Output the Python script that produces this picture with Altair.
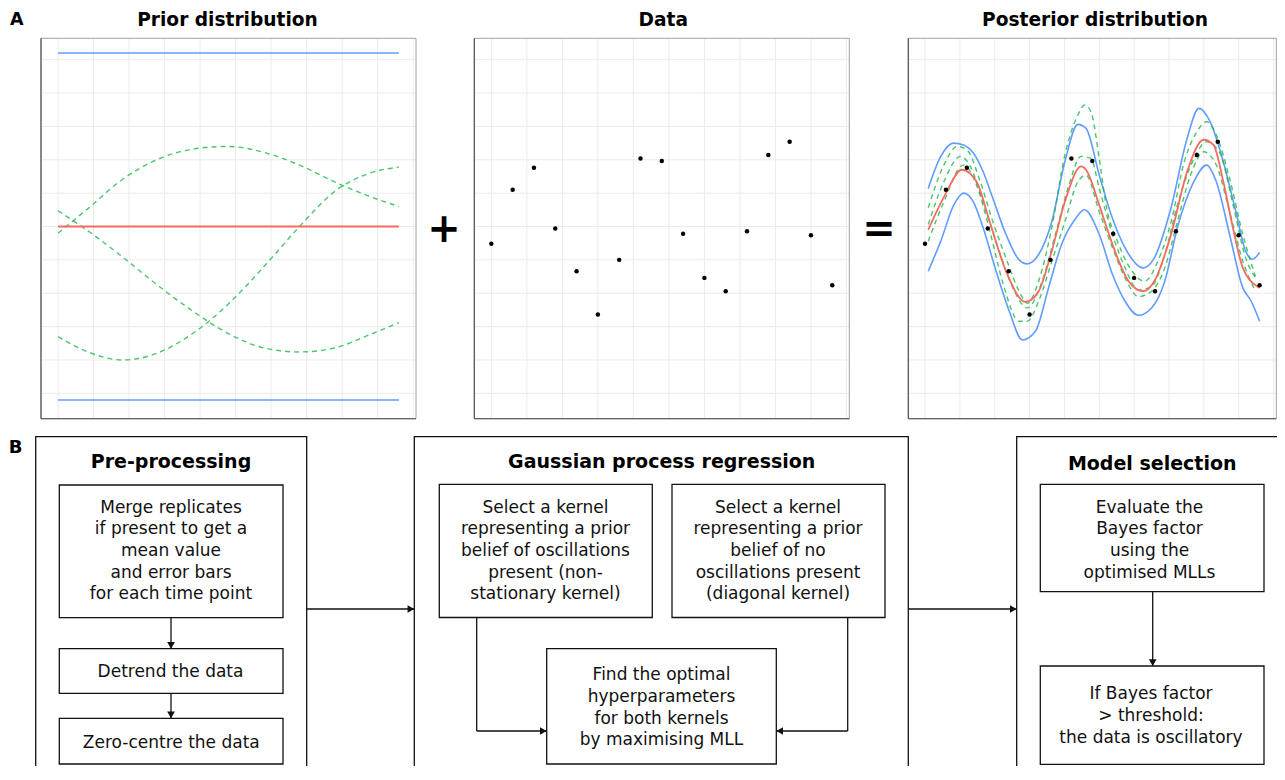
import altair as alt
import pandas as pd

# ---------------- values ----------------
# observation times and values (Data panel, repeated on the posterior panel)
obs_t = [0, 3, 6, 9, 12, 15, 18, 21, 24, 27, 30, 33, 36, 39, 42, 45, 48]
obs_v = [-0.26, 0.55, 0.88, -0.03, -0.67, -1.32, -0.50, 1.02, 0.98, -0.11,
         -0.77, -0.97, -0.07, 1.07, 1.27, -0.13, -0.88]

# prior: mean, +/- band and three dashed samples
prior_edge_t = [0, 48]
prior_mean = [0.0, 0.0]
prior_upper = [2.6, 2.6]
prior_lower = [-2.6, -2.6]
prior_t = [0, 4, 9, 13.9, 19, 23.9, 29, 34, 38.9, 43.9, 48]
prior_s1 = [0.235, -0.05, -0.45, -0.87, -1.27, -1.60, -1.82, -1.88, -1.82, -1.62, -1.44]
prior_s2 = [-0.10, 0.25, 0.70, 1.00, 1.16, 1.20, 1.11, 0.92, 0.67, 0.45, 0.30]
prior_s3 = [-1.65, -1.87, -2.00, -1.90, -1.60, -1.17, -0.60, 0.00, 0.52, 0.80, 0.89]

# posterior mean
post_mean_t = [0.46, 2.85, 5.29, 7.4, 9.28, 11.62, 14.43, 16.3, 18.18, 20.06, 22.4, 23.1,
               25.0, 26.4, 27.8, 29.2, 31.3, 32.9, 35.3, 37.6, 40.0, 41.4, 42.8, 44.2,
               45.6, 48.0]
post_mean_v = [-0.05, 0.47, 0.85, 0.67, 0.07, -0.67, -1.13, -0.97, -0.37, 0.37, 0.90, 0.85,
               0.32, -0.12, -0.52, -0.82, -0.97, -0.82, -0.12, 0.82, 1.30, 1.22, 0.67, -0.03,
               -0.62, -0.92]
# posterior upper / lower bounds
post_up_t = [0.46, 2.25, 4.12, 5.53, 6.93, 8.34, 9.74, 11.62, 13.5, 14.67, 16.3, 18.18, 20.06,
             21.93, 23.1, 25.0, 26.9, 28.7, 31.3, 32.9, 35.3, 37.6, 39.3, 40.9, 42.8, 44.6,
             46.0, 47.0, 48.0]
post_up_v = [0.57, 1.05, 1.25, 1.22, 1.10, 0.82, 0.42, -0.12, -0.50, -0.56, -0.42, 0.07, 0.97,
             1.53, 1.47, 0.77, 0.12, -0.32, -0.62, -0.47, 0.28, 1.32, 1.77, 1.57, 0.97, 0.22,
             -0.37, -0.49, -0.39]
post_lo_t = [0.46, 2.25, 4.12, 5.53, 6.93, 8.34, 10.2, 12.09, 13.97, 15.84, 17.72, 19.59, 21.47,
             22.88, 25.0, 26.9, 28.7, 30.6, 32.5, 34.4, 36.2, 38.6, 40.4, 41.8, 43.7, 45.6,
             46.8, 48.0]
post_lo_v = [-0.67, -0.22, 0.32, 0.50, 0.37, -0.02, -0.67, -1.27, -1.70, -1.57, -0.92, -0.27,
             0.10, 0.25, -0.12, -0.72, -1.12, -1.33, -1.22, -0.82, -0.02, 0.68, 0.92, 0.67,
             -0.12, -0.92, -1.12, -1.42]
# posterior dashed samples
post_s1_t = [0.46, 2.7, 4.6, 6.0, 7.9, 9.74, 11.6, 13.5, 14.67, 16.3, 18.18, 20.06, 21.93, 22.9,
             23.8, 25.0, 25.9, 27.8, 29.7, 31.5, 33.4, 35.3, 37.2, 39.0, 40.4, 41.8, 43.7, 45.6,
             47.4]
post_s1_v = [0.28, 0.92, 1.20, 1.15, 0.68, 0.07, -0.47, -0.97, -1.15, -0.82, -0.02, 1.07, 1.67,
             1.82, 1.72, 1.02, 0.37, -0.27, -0.67, -0.82, -0.52, 0.07, 0.97, 1.42, 1.57, 1.37,
             0.72, -0.12, -0.75]
post_s2_t = [0.46, 2.7, 5.06, 6.5, 8.3, 10.2, 12.6, 14.67, 16.8, 18.7, 20.5, 22.4, 23.8, 25.0,
             26.9, 28.7, 30.6, 32.5, 34.4, 36.2, 38.6, 40.4, 42.3, 44.2, 46.0, 47.7]
post_s2_v = [0.03, 0.67, 1.05, 0.90, 0.37, -0.23, -0.92, -1.22, -0.82, -0.12, 0.57, 1.05, 1.02,
             0.57, -0.12, -0.62, -0.95, -0.90, -0.42, 0.32, 1.02, 1.27, 1.10, 0.32, -0.47, -0.80]
post_s3_t = [0.46, 2.7, 5.5, 7.4, 9.3, 11.1, 13.5, 14.67, 16.3, 18.2, 20.06, 21.93, 23.1, 25.0,
             26.9, 28.7, 30.6, 32.5, 34.4, 36.2, 38.1, 40.0, 41.8, 43.7, 45.6, 47.4]
post_s3_v = [-0.22, 0.37, 0.92, 0.62, -0.07, -0.82, -1.42, -1.42, -1.12, -0.52, 0.07, 0.67, 0.77,
             0.22, -0.32, -0.77, -1.05, -0.97, -0.62, 0.07, 0.77, 1.12, 0.92, 0.22, -0.52, -0.97]

# panel axes (ticks used for the grid only)
grid_t = [0, 5, 10, 15, 20, 25, 30, 35, 40, 45, 50]
grid_v = [-2.5, -2.0, -1.5, -1.0, -0.5, 0.0, 0.5, 1.0, 1.5, 2.0, 2.5]

panel_titles = ["Prior distribution", "Data", "Posterior distribution"]

# ---------------- layout / style ----------------
W, H = 1269, 758
FONT = "DejaVu Sans"
X_DOMAIN = [-2.4, 50.4]
Y_DOMAIN = [-2.88, 2.82]
PANEL_Y_RANGE = [410.7, 30.3]
PANEL_X_RANGES = [[33, 408], [466.3, 841.3], [900.3, 1268.3]]
BLUE, RED, GREEN = "#619CFF", "#F66A60", "#1DB845"
TXT = "#111111"


def curves(pairs):
    frames = [pd.DataFrame({"t": t, "v": v, "series": name}) for name, t, v in pairs]
    return pd.concat(frames, ignore_index=True)


def panel(i, layers):
    sx = alt.Scale(domain=X_DOMAIN, range=PANEL_X_RANGES[i], nice=False, zero=False)
    sy = alt.Scale(domain=Y_DOMAIN, range=PANEL_Y_RANGE, nice=False, zero=False)

    def X(f):
        return alt.X(f, type="quantitative", scale=sx, axis=None)

    def Y(f):
        return alt.Y(f, type="quantitative", scale=sy, axis=None)

    gx = pd.DataFrame({"g": grid_t, "lo": Y_DOMAIN[0], "hi": Y_DOMAIN[1]})
    gy = pd.DataFrame({"g": grid_v, "lo": X_DOMAIN[0], "hi": X_DOMAIN[1]})
    frame = pd.DataFrame({"x0": [X_DOMAIN[0]], "x1": [X_DOMAIN[1]],
                          "y0": [Y_DOMAIN[0]], "y1": [Y_DOMAIN[1]]})
    out = [
        alt.Chart(gx).mark_rule(color="#ebebeb", strokeWidth=1).encode(
            x=X("g"), y=Y("lo"), y2="hi:Q"),
        alt.Chart(gy).mark_rule(color="#ebebeb", strokeWidth=1).encode(
            y=Y("g"), x=X("lo"), x2="hi:Q"),
        alt.Chart(frame).mark_rect(fillOpacity=0, stroke="#a0a0a0", strokeWidth=1).encode(
            x=X("x0"), x2="x1:Q", y=Y("y0"), y2="y1:Q"),
        alt.Chart(frame).mark_rule(color="#4d4d4d", strokeWidth=1.1).encode(
            x=X("x0"), y=Y("y0"), y2="y1:Q"),
        alt.Chart(frame).mark_rule(color="#4d4d4d", strokeWidth=1.1).encode(
            y=Y("y0"), x=X("x0"), x2="x1:Q"),
    ]
    for kind, df in layers:
        if kind == "blue":
            m = alt.Chart(df).mark_line(color=BLUE, strokeWidth=1.6, interpolate="monotone")
        elif kind == "red":
            m = alt.Chart(df).mark_line(color=RED, strokeWidth=1.8, interpolate="monotone")
        elif kind == "green":
            m = alt.Chart(df).mark_line(color=GREEN, strokeWidth=1.4, strokeDash=[5, 4],
                                        opacity=0.8, interpolate="monotone")
        else:
            m = alt.Chart(df).mark_circle(color="black", size=20, opacity=1)
        if kind == "points":
            out.append(m.encode(x=X("t"), y=Y("v")))
        else:
            out.append(m.encode(x=X("t"), y=Y("v"), detail="series:N"))
    return alt.layer(*out)


obs_df = pd.DataFrame({"t": obs_t, "v": obs_v})

p1 = panel(0, [
    ("blue", curves([("up", prior_edge_t, prior_upper), ("lo", prior_edge_t, prior_lower)])),
    ("green", curves([("s1", prior_t, prior_s1), ("s2", prior_t, prior_s2),
                      ("s3", prior_t, prior_s3)])),
    ("red", curves([("mean", prior_edge_t, prior_mean)])),
])
p2 = panel(1, [("points", obs_df)])
p3 = panel(2, [
    ("blue", curves([("up", post_up_t, post_up_v), ("lo", post_lo_t, post_lo_v)])),
    ("green", curves([("s1", post_s1_t, post_s1_v), ("s2", post_s2_t, post_s2_v),
                      ("s3", post_s3_t, post_s3_v)])),
    ("red", curves([("mean", post_mean_t, post_mean_v)])),
    ("points", obs_df),
])

# ---------------- flow chart (section B) ----------------
fx = alt.Scale(domain=[0, W], range=[0, W], nice=False, zero=False)
fy = alt.Scale(domain=[0, H], range=[0, H], nice=False, zero=False)


def FX(f):
    return alt.X(f, type="quantitative", scale=fx, axis=None)


def FY(f):
    return alt.Y(f, type="quantitative", scale=fy, axis=None)


boxes = pd.DataFrame([
    ("pre", 27.7, 298.7, 428.7, 800),
    ("gpr", 406.3, 900.3, 428.7, 800),
    ("sel", 1008.7, 1330, 428.7, 800),
    ("merge", 51.3, 275, 477, 609.7),
    ("detrend", 51.3, 275, 640.7, 685.3),
    ("zero", 51.3, 275, 710.3, 756),
    ("k1", 431.3, 644.3, 476.3, 609.5),
    ("k2", 664, 877, 476.3, 609.5),
    ("find", 538.7, 768.3, 640.7, 756),
    ("eval", 1032.3, 1256, 476.3, 583.7),
    ("ifb", 1032.3, 1256, 658, 756.3),
], columns=["name", "x0", "x1", "y0", "y1"])

segments = pd.DataFrame([
    (163, 609.7, 163, 640.7),
    (163, 685.3, 163, 710.3),
    (298.7, 601, 406.3, 601),
    (900.3, 601, 1008.7, 601),
    (468.7, 609.5, 468.7, 723),
    (468.7, 723, 538.7, 723),
    (839.7, 609.5, 839.7, 723),
    (839.7, 723, 768.3, 723),
    (1144.7, 583.7, 1144.7, 658),
], columns=["x", "y", "x2", "y2"])

HEAD_SIZE = 60
HEAD_H = (HEAD_SIZE ** 0.5) / 2 * (3 ** 0.5) / 2
heads_raw = [
    (163, 640.7, "down"), (163, 710.3, "down"), (406.3, 601, "right"),
    (1008.7, 601, "right"), (538.7, 723, "right"), (768.3, 723, "left"),
    (1144.7, 658, "down"),
]
dirs = {"down": (0, 1), "right": (1, 0), "left": (-1, 0)}
heads = pd.DataFrame([
    {"x": x - dirs[d][0] * HEAD_H, "y": y - dirs[d][1] * HEAD_H, "shape": "triangle-" + d}
    for x, y, d in heads_raw
])

bold_labels = pd.DataFrame([
    ("A", 8.7, 17, 17.5),
    ("B", 7.7, 445.3, 18),
    (panel_titles[0], 219.5, 17.6, 18.6),
    (panel_titles[1], 655.3, 17.6, 18.6),
    (panel_titles[2], 1087, 17.6, 18.6),
    ("Pre-processing", 163, 459.7, 19),
    ("Gaussian process regression", 653.7, 459.7, 19),
    ("Model selection", 1144.2, 461.5, 19),
], columns=["text", "x", "y", "fs"])

symbols = pd.DataFrame([("+", 436, 221.5), ("=", 871, 221.5)], columns=["text", "x", "y"])

body = pd.DataFrame([
    ("Merge replicates\nif present to get a\nmean value\nand error bars\nfor each time point",
     163, 504.7),
    ("Detrend the data", 162.5, 668.7),
    ("Zero-centre the data", 163.3, 739.7),
    ("Select a kernel\nrepresenting a prior\nbelief of oscillations\npresent (non-\nstationary kernel)",
     537.5, 504.7),
    ("Select a kernel\nrepresenting a prior\nbelief of no\noscillations present\n(diagonal kernel)",
     770, 504.7),
    ("Find the optimal\nhyperparameters\nfor both kernels\nby maximising MLL", 653.5, 672.3),
    ("Evaluate the\nBayes factor\nusing the\noptimised MLLs", 1141.5, 504.7),
    ("If Bayes factor\n> threshold:\nthe data is oscillatory", 1143, 691.3),
], columns=["text", "x", "y"])

flow = alt.layer(
    alt.Chart(boxes).mark_rect(fill="white", fillOpacity=0, stroke="#111111",
                               strokeWidth=1.3, clip=True).encode(
        x=FX("x0"), x2="x1:Q", y=FY("y0"), y2="y1:Q"),
    alt.Chart(segments).mark_rule(color="#111111", strokeWidth=1.3).encode(
        x=FX("x"), y=FY("y"), x2="x2:Q", y2="y2:Q"),
    alt.Chart(heads).mark_point(filled=True, color="#111111", opacity=1,
                                size=HEAD_SIZE, strokeWidth=0).encode(
        x=FX("x"), y=FY("y"), shape=alt.Shape("shape:N", scale=None)),
    alt.Chart(bold_labels).mark_text(font=FONT, fontWeight="bold", color="black",
                                     align="center", baseline="alphabetic").encode(
        x=FX("x"), y=FY("y"), text="text:N", size=alt.Size("fs:Q", scale=None)),
    alt.Chart(symbols).mark_text(font=FONT, fontWeight="bold", color="black", fontSize=40,
                                 align="center", baseline="middle").encode(
        x=FX("x"), y=FY("y"), text="text:N"),
    alt.Chart(body).mark_text(font=FONT, fontSize=17, color=TXT, align="center",
                              baseline="alphabetic", lineBreak="\n",
                              lineHeight=21.7).encode(
        x=FX("x"), y=FY("y"), text="text:N"),
)

chart = alt.layer(p1, p2, p3, flow).resolve_scale(
    x="independent", y="independent"
).properties(
    width=W, height=H, padding=0,
    autosize=alt.AutoSizeParams(type="none"),
    background="white",
).configure_view(stroke=None)

chart.save("out.html", embed_options={"renderer": "svg", "actions": False})
